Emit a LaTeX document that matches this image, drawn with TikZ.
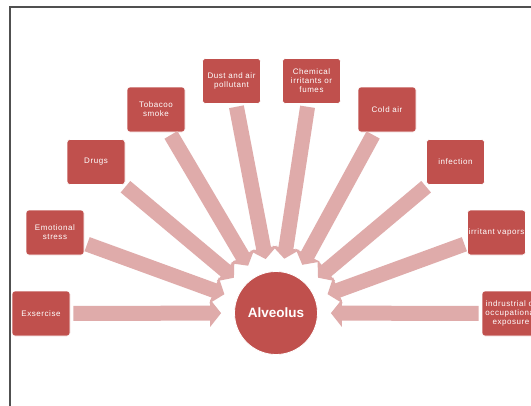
\documentclass[tikz,border=0pt]{standalone}
\usepackage{fontspec}
\setmainfont{Liberation Sans}
\newfontfamily\boxfont[LetterSpace=7]{Liberation Sans}
\usetikzlibrary{arrows.meta}
\definecolor{boxred}{HTML}{C0504D}
\definecolor{arrpink}{HTML}{DFABAA}
\definecolor{framegray}{HTML}{505050}
\tikzset{
  cause/.style={rectangle, rounded corners=3pt, fill=boxred, draw=white, line width=0.6pt,
    minimum width=58pt, minimum height=45pt, inner sep=0pt, text width=58pt, align=center,
    text=white, font=\boxfont\fontsize{8}{9}\selectfont},
  hub/.style={circle, fill=boxred, draw=white, line width=0.8pt, minimum size=83pt, inner sep=0pt,
    text=white, font=\bfseries\fontsize{13.5}{15}\selectfont},
  arr/.style={draw=arrpink, line width=15pt, shorten >=13pt, shorten <=3pt,
    -{Triangle[width=27pt,length=11pt]}}
}
\begin{document}
\begin{tikzpicture}[x=1pt,y=-1pt]
\useasboundingbox (0,0) rectangle (531,405);
\clip (0,0) rectangle (531,405);
\fill[white] (0,0) rectangle (531,405);
\draw[framegray, line width=1.4pt] (10,440) -- (10,7) -- (560,7);
\node[hub] (alv) at (276,313) {Alveolus};
\node[cause] (ex)  at (41,313.5)   {Exsercise};
\node[cause] (emo) at (55,232.5)   {Emotional\\stress};
\node[cause] (dru) at (96,162)     {Drugs};
\node[cause] (tob) at (156,109.5)  {Tobacoo\\smoke};
\node[cause] (dus) at (231.5,81)   {Dust and air\\pollutant};
\node[cause] (che) at (311.5,81)   {Chemical\\irritants or\\fumes};
\node[cause] (col) at (387,109.5)  {Cold air};
\node[cause] (inf) at (455.5,162)  {infection};
\node[cause] (irr) at (496.5,232.5) {irritant vapors};
\node[cause] (ind) at (511,313.5)  {indrustrial or\\occupational\\exposure};
\foreach \n in {ex,emo,dru,tob,dus,che,col,inf,irr,ind}
  \draw[arr] (\n) -- (alv);
\end{tikzpicture}
\end{document}
